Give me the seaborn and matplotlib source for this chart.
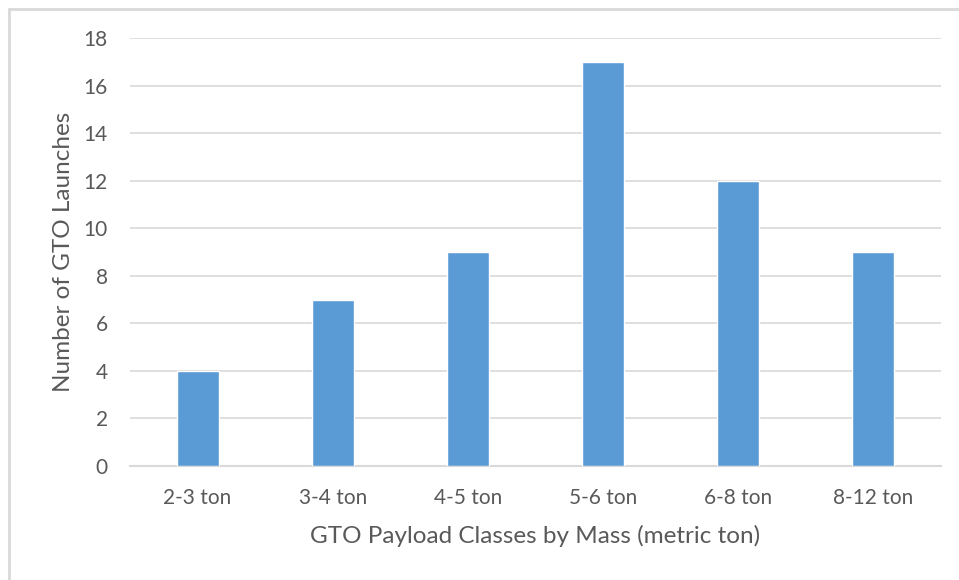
import matplotlib
matplotlib.use("Agg")
import matplotlib.pyplot as plt
import seaborn as sns
import pandas as pd
from matplotlib.lines import Line2D

# data
classes = ["2-3 ton", "3-4 ton", "4-5 ton", "5-6 ton", "6-8 ton", "8-12 ton"]
launches = [4, 7, 9, 17, 12, 9]

df = pd.DataFrame({"Class": classes, "Launches": launches})

sns.set_style("white")
plt.rcParams["font.family"] = ["Lato", "DejaVu Sans"]

text_gray = "#595959"
grid_gray = "#d9d9d9"

fig = plt.figure(figsize=(9.59, 5.8), dpi=100)
ax = fig.add_axes([130 / 959, 1 - 466 / 580, 811 / 959, (466 - 38) / 580])

sns.barplot(data=df, x="Class", y="Launches", color="#5b9bd5", width=0.31,
            saturation=1, ax=ax, zorder=3)

ax.set_ylim(0, 18)
ax.set_xlim(-0.5, 5.5)
ax.set_yticks(range(0, 19, 2))
ax.yaxis.grid(True, color=grid_gray, linewidth=1.2, zorder=0)
ax.set_axisbelow(True)
for side in ["top", "right", "left"]:
    ax.spines[side].set_visible(False)
ax.spines["bottom"].set_color(grid_gray)
ax.spines["bottom"].set_linewidth(1.5)
ax.tick_params(axis="both", length=0, labelsize=15, colors=text_gray)
ax.tick_params(axis="x", pad=16)
ax.tick_params(axis="y", pad=16)

ax.set_xlabel("GTO Payload Classes by Mass (metric ton)", fontsize=17.5,
              color=text_gray, labelpad=12)
ax.set_ylabel("Number of GTO Launches", fontsize=17.5, color=text_gray,
              labelpad=7)

# outer frame like the original screenshot
fig.add_artist(Line2D([9 / 959, 1], [1 - 9 / 580, 1 - 9 / 580],
                      color="#d9d9d9", linewidth=2, transform=fig.transFigure))
fig.add_artist(Line2D([9 / 959, 9 / 959], [0, 1 - 9 / 580],
                      color="#d9d9d9", linewidth=2, transform=fig.transFigure))

fig.savefig("out.png", dpi=100)
